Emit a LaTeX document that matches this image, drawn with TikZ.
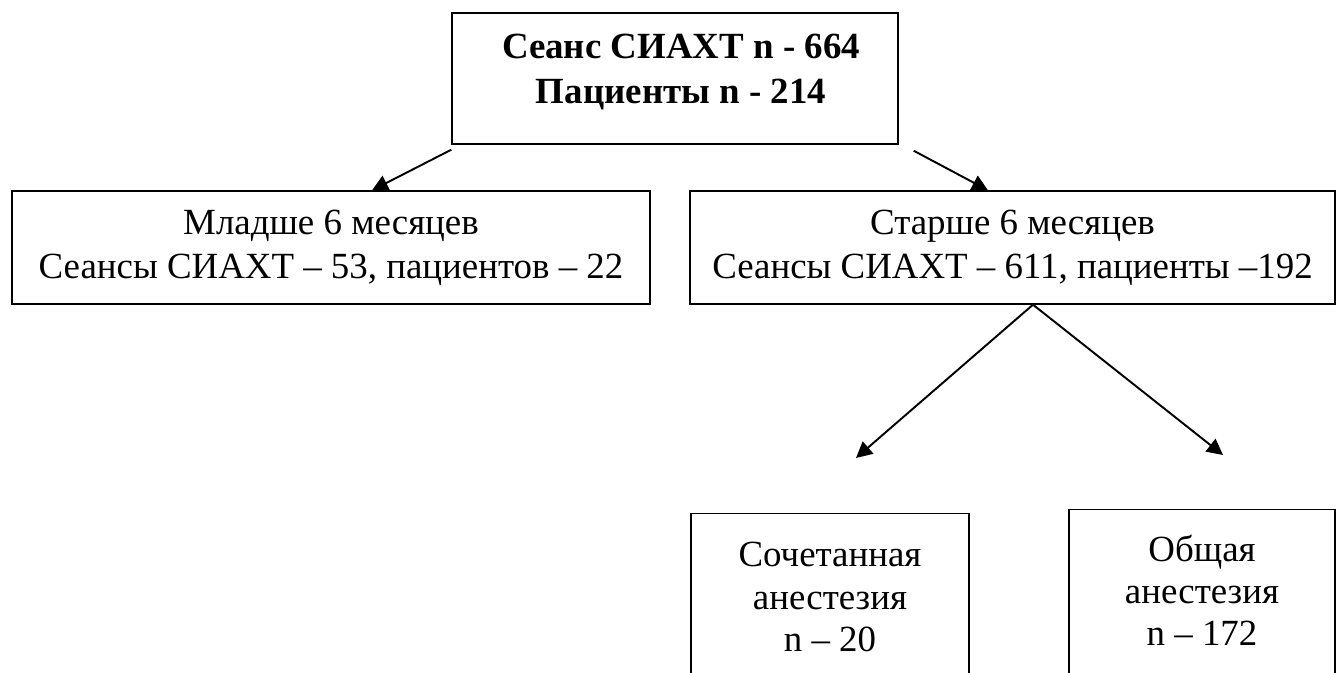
\documentclass[tikz,border=0pt]{standalone}
\usepackage{fontspec}
\setmainfont{Liberation Serif}
\usetikzlibrary{positioning, arrows.meta}

\begin{document}
\begin{tikzpicture}[
        x=0.02cm, y=-0.02cm,
        >={Triangle[length=0.32cm, width=0.32cm]},
        every node/.style={font=\fontsize{21}{25}\selectfont, align=center},
        frame/.style={draw=black, line width=0.8pt, inner sep=0pt},
        link/.style={->, line width=1.1pt}
    ]
        \clip (0,0) rectangle (1336,673);
        % Top box: all sessions
        \node[frame, minimum width=8.92cm, minimum height=2.62cm] (top) at (675,78.5) {};
        \node[font=\fontsize{21}{25.6}\selectfont\bfseries] (toptxt) at (681,72) {Сеанс СИАХТ n - 664\\Пациенты n - 214};

        % Age groups
        \node[frame, minimum width=12.76cm, minimum height=2.26cm] (young) at (331,247.5) {Младше 6 месяцев\\Сеансы СИАХТ – 53, пациентов – 22};
        \node[frame, minimum width=12.9cm, minimum height=2.26cm] (old) at (1012.5,247.5) {Старше 6 месяцев\\Сеансы СИАХТ – 611, пациенты –192};

        % Anaesthesia types (boxes run past the page bottom)
        \node[frame, anchor=north, minimum width=5.56cm, minimum height=4cm] (comb) at (830,513) {};
        \node[font=\fontsize{21}{24}\selectfont] (combtxt) at (830,597) {Сочетанная\\анестезия\\n – 20};
        \node[frame, anchor=north, minimum width=5.32cm, minimum height=4cm] (gen) at (1202,509) {};
        \node[font=\fontsize{21}{24}\selectfont] (gentxt) at (1202,590) {Общая\\анестезия\\n – 172};

        % Arrows
        \coordinate (apex) at ([xshift=0.41cm]old.south);
        \coordinate (tipL) at (856,458);
        \coordinate (tipR) at (1223,455);
        \draw[link] ([yshift=-0.1cm]top.south west) -- ([xshift=0.82cm]young.north);
        \draw[link] ([shift={(0.3cm,-0.12cm)}]top.south east) -- ([xshift=-0.49cm]old.north);
        \draw[link] (apex) -- (tipL);
        \draw[link] (apex) -- (tipR);
\end{tikzpicture}
\end{document}
